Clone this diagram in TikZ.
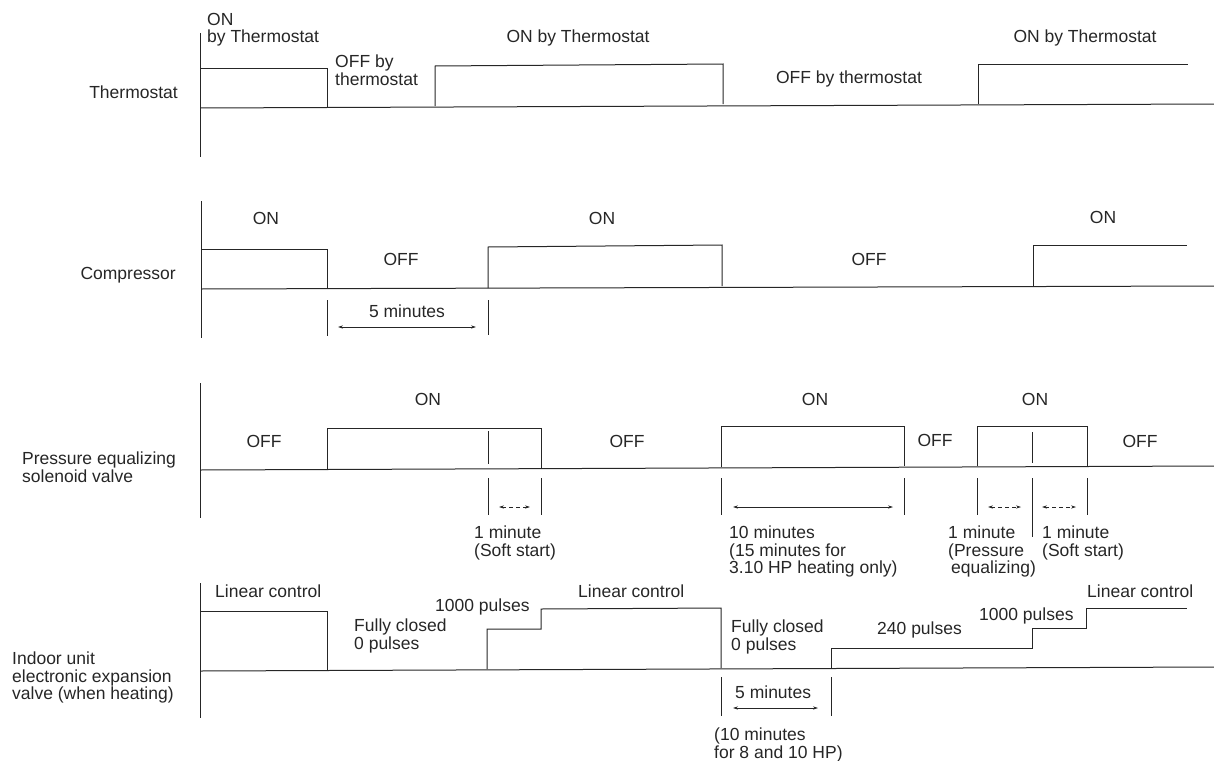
\documentclass[tikz,border=0pt]{standalone}
\usepackage{fontspec}
\setmainfont{Liberation Sans}
\usetikzlibrary{arrows.meta}
\begin{document}
\begin{tikzpicture}[x=1pt,y=-1pt,
  wave/.style={line width=1pt, draw=black!85, line join=miter},
  axisline/.style={line width=1pt, draw=black!85},
  tickline/.style={line width=0.9pt, draw=black!85},
  dim/.style={line width=0.7pt, draw=black!85, {Stealth[length=5pt,width=3.2pt]}-{Stealth[length=5pt,width=3.2pt]}},
  dimdash/.style={dim, dash pattern=on 4pt off 3pt},
  txt/.style={inner sep=0pt, font=\fontsize{17.5}{17.5}\selectfont, align=left, text=black!85}]
\useasboundingbox (0,0) rectangle (1214,760);

% ---------------- Thermostat ----------------
\draw[axisline] (200,33) -- (200,157);
\draw[wave] (200,108) -- (1214,104);
\draw[wave] (200,68) -- (327,68) -- (327,107);
\draw[wave] (435,106) -- (435,66) -- (723,64) -- (723,104);
\draw[wave] (978,104) -- (978,64) -- (1188,64);
\node[txt, anchor=base east] (lthermo) at (178,98) {Thermostat};
\node[txt, anchor=north west] (t1) at (207,13) {ON\\by Thermostat};
\node[txt, anchor=north west] (t2) at (335,55) {OFF by\\thermostat};
\node[txt, anchor=base] (t3) at (578,43) {ON by Thermostat};
\node[txt, anchor=base] (t4) at (849,83) {OFF by thermostat};
\node[txt, anchor=base] (t5) at (1085,43) {ON by Thermostat};

% ---------------- Compressor ----------------
\draw[axisline] (201,201) -- (201,338);
\draw[wave] (201,289) -- (1214,286);
\draw[wave] (201,249) -- (327,249) -- (327,288);
\draw[wave] (488,288) -- (488,247) -- (722,245) -- (722,286);
\draw[wave] (1033,286) -- (1033,245) -- (1187,245);
\node[txt, anchor=base east] (lcomp) at (176,279) {Compressor};
\node[txt, anchor=base] (c1) at (266,224) {ON};
\node[txt, anchor=base] (c2) at (401,265) {OFF};
\node[txt, anchor=base] (c3) at (602,224) {ON};
\node[txt, anchor=base] (c4) at (869,265) {OFF};
\node[txt, anchor=base] (c5) at (1103,223) {ON};
\draw[tickline] (327,300) -- (327,336);
\draw[tickline] (488,300) -- (488,335);
\coordinate (ca) at (338,327);
\coordinate (cb) at (476,327);
\draw[dim] (ca) -- (cb);
\node[txt, anchor=base] (c5min) at (407,317) {5 minutes};

% ---------------- Pressure equalizing solenoid valve ----------------
\draw[axisline] (200,383) -- (200,518);
\draw[wave] (200,470) -- (1214,466);
\draw[wave] (327,469) -- (327,428) -- (541,428) -- (541,469);
\draw[wave] (488,431) -- (488,464);
\draw[wave] (721,467) -- (721,426) -- (904,426) -- (904,466);
\draw[wave] (977,466) -- (977,426) -- (1087,426) -- (1087,466);
\draw[wave] (1032,432) -- (1032,463);
\node[txt, anchor=north west] (lpress) at (22,452) {Pressure equalizing\\solenoid valve};
\node[txt, anchor=base] (p1) at (264,447) {OFF};
\node[txt, anchor=base] (p2) at (428,405) {ON};
\node[txt, anchor=base] (p3) at (627,447) {OFF};
\node[txt, anchor=base] (p4) at (815,405) {ON};
\node[txt, anchor=base] (p5) at (935,446) {OFF};
\node[txt, anchor=base] (p6) at (1035,405) {ON};
\node[txt, anchor=base] (p7) at (1140,447) {OFF};
\draw[tickline] (488,478) -- (488,515);
\draw[tickline] (541,478) -- (541,515);
\draw[tickline] (721,478) -- (721,515);
\draw[tickline] (904,478) -- (904,515);
\draw[tickline] (977,478) -- (977,515);
\draw[tickline] (1032,478) -- (1032,537);
\draw[tickline] (1087,478) -- (1087,515);
\coordinate (pa1) at (499,507); \coordinate (pa2) at (530,507);
\coordinate (pb1) at (733,507); \coordinate (pb2) at (893,507);
\coordinate (pc1) at (988,507); \coordinate (pc2) at (1021,507);
\coordinate (pd1) at (1042,507); \coordinate (pd2) at (1076,507);
\draw[dimdash] (pa1) -- (pa2);
\draw[dim] (pb1) -- (pb2);
\draw[dimdash] (pc1) -- (pc2);
\draw[dimdash] (pd1) -- (pd2);
\node[txt, anchor=north west] (pl1) at (474,526) {1 minute\\(Soft start)};
\node[txt, anchor=north west] (pl2) at (729,526) {10 minutes\\(15 minutes for\\3.10 HP heating only)};
\node[txt, anchor=north west] (pl3) at (948,526) {1 minute\\(Pressure\\\hspace{3pt}equalizing)};
\node[txt, anchor=north west] (pl4) at (1042,526) {1 minute\\(Soft start)};

% ---------------- Indoor unit electronic expansion valve ----------------
\draw[axisline] (200,583) -- (200,718);
\draw[wave] (200,671) -- (1214,667);
\draw[wave] (200,611) -- (327,611) -- (327,670);
\draw[wave] (487,669) -- (487,629) -- (541,629) -- (541,609) -- (721,608) -- (721,668);
\draw[wave] (831,668) -- (831,648) -- (1032,648) -- (1032,628) -- (1086,628) -- (1086,608) -- (1187,608);
\node[txt, anchor=north west] (lind) at (12,652) {Indoor unit\\electronic expansion\\valve (when heating)};
\node[txt, anchor=north west] (e1) at (215,585) {Linear control};
\node[txt, anchor=north west] (e2) at (354,619) {Fully closed\\0 pulses};
\node[txt, anchor=north west] (e3) at (435,599) {1000 pulses};
\node[txt, anchor=north west] (e4) at (578,585) {Linear control};
\node[txt, anchor=north west] (e5) at (731,620) {Fully closed\\0 pulses};
\node[txt, anchor=north west] (e6) at (877,622) {240 pulses};
\node[txt, anchor=north west] (e7) at (979,608) {1000 pulses};
\node[txt, anchor=north west] (e8) at (1087,585) {Linear control};
\draw[tickline] (721,677) -- (721,716);
\draw[tickline] (831,677) -- (831,716);
\coordinate (ea) at (733,708); \coordinate (eb) at (818,708);
\draw[dim] (ea) -- (eb);
\node[txt, anchor=north west] (e5min) at (735,686) {5 minutes};
\node[txt, anchor=north west] (e10) at (714,728) {(10 minutes\\for 8 and 10 HP)};
\end{tikzpicture}
\end{document}
